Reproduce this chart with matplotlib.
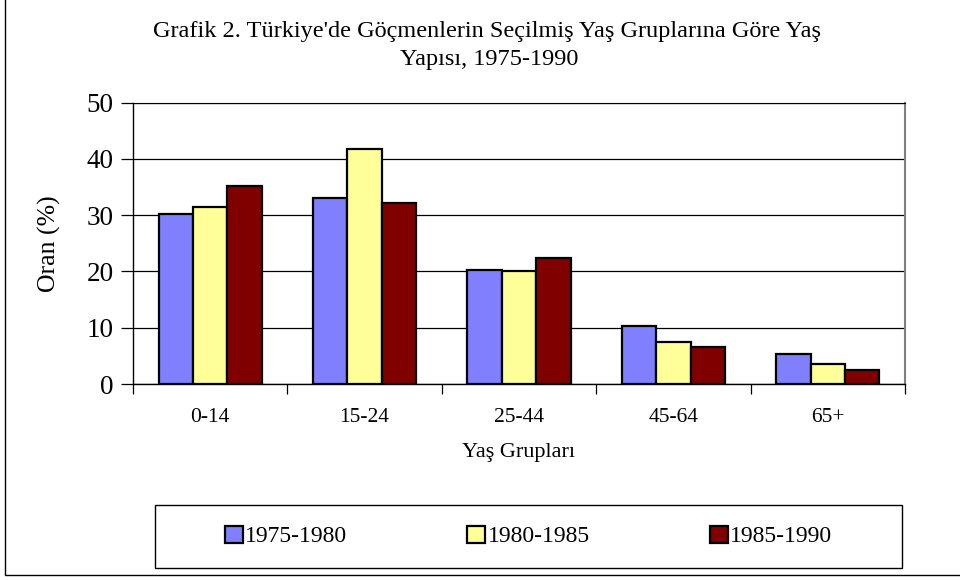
import numpy as np
import matplotlib.pyplot as plt
from matplotlib.patches import Rectangle

# === DATOS ===
gruplar = ["0-14", "15-24", "25-44", "45-64", "65+"]
donemler = ["1975-1980", "1980-1985", "1985-1990"]
oran_1975 = [30.2, 33.1, 20.2, 10.3, 5.4]
oran_1980 = [31.4, 41.7, 20.1, 7.5, 3.5]
oran_1985 = [35.2, 32.2, 22.4, 6.5, 2.4]
renkler = ["#8080FF", "#FFFF99", "#800000"]

plt.rcParams["font.family"] = ["Liberation Serif", "DejaVu Serif"]

W, H = 960, 580
fig = plt.figure(figsize=(W / 100, H / 100), dpi=100)

# marco exterior del grafico
fig.add_artist(Rectangle((5 / W, 1 - 575 / H), 1.2, 1.2, transform=fig.transFigure,
                         fill=False, edgecolor="black", lw=1.0))

# area de trazado (pixeles -> fraccion)
x0, x1, y0, y1 = 133, 905, 102.5, 384
ax = fig.add_axes([x0 / W, 1 - y1 / H, (x1 - x0) / W, (y1 - y0) / H])

x = np.arange(len(gruplar))
bw = 0.223
for i, (vals, c) in enumerate(zip([oran_1975, oran_1980, oran_1985], renkler)):
    ax.bar(x + (i - 1) * bw, vals, width=bw, color=c, edgecolor="black",
           linewidth=1.6, label=donemler[i], zorder=3)

ax.set_xlim(-0.5, len(gruplar) - 0.5)
ax.set_ylim(0, 50)
ax.set_yticks(range(0, 51, 10))
ax.yaxis.grid(True, color="black", linewidth=0.9, zorder=0)
ax.set_axisbelow(True)

# ticks de separacion entre categorias
ax.set_xticks(np.arange(-0.5, len(gruplar), 1.0))
ax.set_xticklabels([])
ax.set_xticks(x, minor=True)
ax.set_xticklabels(gruplar, minor=True, fontsize=15.5)
ax.tick_params(axis="x", which="major", length=7, direction="out", width=0.9)
ax.tick_params(axis="x", which="minor", length=0, pad=17)
ax.tick_params(axis="y", length=9, width=0.9, labelsize=19.5, pad=5)
ax.tick_params(axis="y", which="both", right=False)

for s in ["left", "bottom"]:
    ax.spines[s].set_color("black")
    ax.spines[s].set_linewidth(1.0)
ax.spines["top"].set_color("black")
ax.spines["right"].set_color("#808080")
ax.spines["right"].set_linewidth(1.5)

ax.set_xlabel("Yaş Grupları", fontsize=16, labelpad=12)
ax.set_ylabel("Oran (%)", fontsize=18.5, labelpad=18)

fig.text(0.507, 1 - 31 / H, "Grafik 2. Türkiye'de Göçmenlerin Seçilmiş Yaş Gruplarına Göre Yaş",
         ha="center", va="center", fontsize=17.5)
fig.text(0.51, 1 - 60 / H, "Yapısı, 1975-1990", ha="center", va="center", fontsize=17.5)

# leyenda
lx0, lx1, ly0, ly1 = 155, 902, 505, 568
leg = fig.legend(loc="center", ncol=3, bbox_to_anchor=((lx0 + lx1) / 2 / W, 1 - (ly0 + ly1) / 2 / H),
                 frameon=False, fontsize=17, handlelength=0.75, handleheight=0.75,
                 handletextpad=0.1, columnspacing=5.1)
for h in leg.legend_handles:
    h.set_linewidth(1.6)
fig.add_artist(Rectangle((lx0 / W, 1 - ly1 / H), (lx1 - lx0) / W, (ly1 - ly0) / H,
                         transform=fig.transFigure, fill=False, edgecolor="black", lw=1.0))

fig.savefig("out.png", dpi=100)
